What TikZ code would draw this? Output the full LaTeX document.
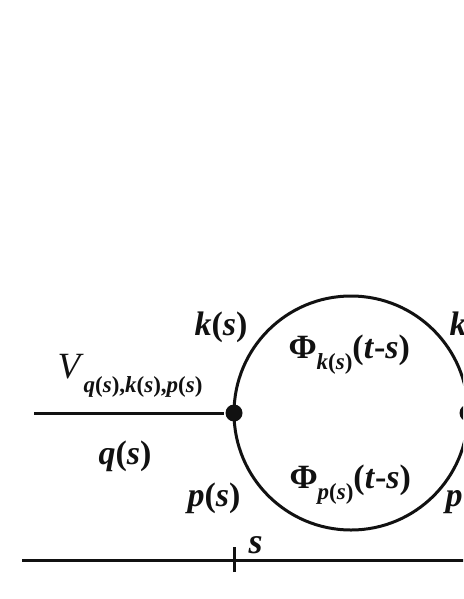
\documentclass[tikz,border=0pt]{standalone}
\usepackage{fontspec}
\setmainfont{Liberation Serif}
\usetikzlibrary{positioning}
\definecolor{ink}{HTML}{111111}
\newcommand{\fn}[1]{\textit{#1}(\textit{s})}
\newcommand{\fsz}[1]{\fontsize{#1}{#1}\selectfont}

\begin{document}
\begin{tikzpicture}[x=1pt,y=-1pt,line width=3pt,ink,
  lbl/.style={anchor=base west,inner sep=0pt,font=\bfseries\fsz{34}},
  vtx/.style={circle,fill=ink,inner sep=0pt,minimum size=17pt}]
\useasboundingbox (0,0) rectangle (463,599);
\clip (0,0) rectangle (463,599);
% loop and its two vertices
\node[circle,draw,inner sep=0pt,minimum size=234pt] (loop) at (351,413) {};
\node[vtx] (vL) at (234,413) {};
\node[vtx] (vR) at (468,413) {};
\coordinate (qin) at (34,413);
\draw (qin) -- (vL);
% time axis
\coordinate (t0) at (22,560);
\coordinate (t1) at (480,560);
\coordinate (ts) at (234,560);
\draw (t0) -- (t1);
\draw ([yshift=-12pt]ts) -- ([yshift=13pt]ts);
\node[lbl,font=\bfseries\fsz{36}] (sl) at (247,553) {\textit{s}};
% labels
\node[lbl] (kl) at (193,335) {\fn{k}};
\node[lbl] (pl) at (186,506) {\fn{p}};
\node[lbl] (kr) at (448,335) {\fn{k}};
\node[lbl] (pr) at (444,506) {\fn{p}};
\node[lbl] (ql) at (97,464) {\fn{q}};
\node[lbl] (phk) at (287,358) {Φ\raisebox{-0.35em}{\fsz{23}\fn{k}}(\textit{t}-\textit{s})};
\node[lbl] (php) at (288,488) {Φ\raisebox{-0.35em}{\fsz{23}\fn{p}}(\textit{t}-\textit{s})};
\node[lbl,font=\fsz{37}] (vl) at (56,378) {\textit{V}\raisebox{-0.4em}{\bfseries\fsz{23}\fn{q},\fn{k},\fn{p}}};
\end{tikzpicture}
\end{document}
